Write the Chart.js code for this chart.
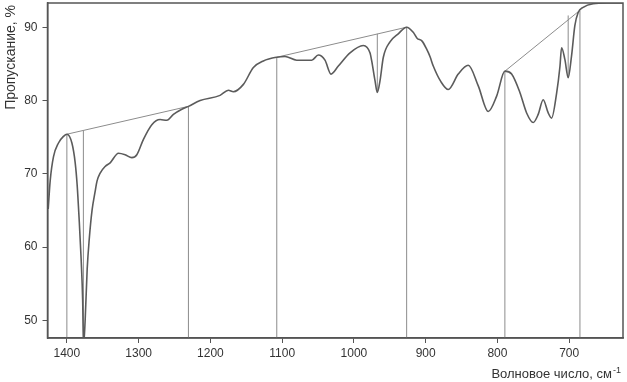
<!DOCTYPE html>
<html>
  <head>
    <script src="https://cdn.jsdelivr.net/npm/chart.js"></script>
    <title>IR spectrum</title>
    <style>
      body {
        margin: 0;
        background-color: white;
      }
      #wrap {
        width: 627px;
        height: 382px;
      }
    </style>
  </head>
  <body>
    <div id="wrap"><canvas id="spectrum"></canvas></div>

    <script>
      // spectrum: wavenumber (cm-1) and transmittance (%)
      const wavenumbers = [1426, 1423.3, 1418.7, 1411.7, 1404.7, 1400, 1393, 1388.4, 1385.7, 1382.9,
        1380.1, 1378, 1376.8, 1374.5, 1371.7, 1368.9, 1364.8, 1360.6, 1358, 1353.6,
        1346.7, 1339.7, 1328.1, 1318.8, 1309.5, 1302.5, 1293.3, 1281.6, 1270.1, 1260.7,
        1251.5, 1239.8, 1230.6, 1214.3, 1186.5, 1174.9, 1168, 1154, 1140.1, 1126.2,
        1107.5, 1096, 1079.7, 1058.8, 1049.6, 1040.3, 1031.9, 1021.7, 1005.4, 986.9,
        977.6, 975.2, 970.6, 967.4, 963.6, 959, 949.7, 938.2, 926.5, 917.3,
        912, 905, 898.6, 894, 889.4, 879, 868.5, 854.6, 840.7, 826.7,
        812.8, 801.1, 789.6, 780.2, 768.7, 759.3, 750.1, 743.2, 736.2, 729.2,
        724.5, 717.5, 712.9, 710.6, 706, 701.4, 696.7, 692.1, 687.5, 680.5,
        666.6, 647.9, 625];
      const transmittance = [65.2, 69.0, 72.3, 74.2, 75.1, 75.4, 74.2, 71.5, 68.5, 63.8,
        58.3, 52.8, 46.5, 50.1, 57.0, 61.0, 65.1, 67.6, 69.0, 70.1,
        71.0, 71.5, 72.8, 72.6, 72.2, 72.6, 74.7, 76.7, 77.4, 77.3,
        78.1, 78.8, 79.2, 80.0, 80.7, 81.4, 81.2, 82.2, 84.5, 85.4,
        85.9, 86.0, 85.5, 85.5, 86.2, 85.5, 83.6, 84.7, 86.5, 87.5,
        86.5, 85.4, 82.7, 81.1, 82.7, 85.9, 88.0, 89.1, 90.0, 89.3,
        88.5, 88.1, 87.0, 86.0, 84.7, 82.6, 81.5, 83.6, 84.8, 82.0,
        78.5, 80.6, 84.0, 83.6, 81.1, 78.3, 77.0, 78.1, 80.1, 78.3,
        77.6, 81.0, 84.6, 87.2, 85.6, 83.1, 86.1, 90.2, 92.0, 92.7,
        93.2, 93.3, 93.3];

      // baselines drawn between maxima
      const baseStartW = [1400, 1107.5, 789.6];
      const baseStartT = [75.4, 85.9, 84.0];
      const baseEndW = [1230.6, 926.5, 685];
      const baseEndT = [79.2, 90.0, 92.3];

      // vertical marks from the axis up to a point
      const markW = [1400, 1377, 1230.6, 1107.5, 926.5, 789.6, 685];
      const markT = [75.4, 75.9, 79.2, 85.9, 90.0, 84.0, 92.3];

      // short verticals from a band minimum up to its baseline
      const dipW = [967.4, 701.4];
      const dipLow = [81.1, 83.1];
      const dipHigh = [89.1, 91.6];

      const xTicks = [1400, 1300, 1200, 1100, 1000, 900, 800, 700];
      const yTicks = [50, 60, 70, 80, 90];
      const xMin = 625, xMax = 1427;
      const yMin = 47.6, yMax = 93.3;

      const yTitle = 'Пропускание, %';
      const xTitle = 'Волновое число, см';
      const xTitleSup = '-1';

      const curveColor = '#5b5b5b';
      const markColor = '#8c8c8c';
      const textColor = '#333';

      function seg(points) {
        return {
          data: points,
          borderColor: markColor,
          borderWidth: 1,
          pointRadius: 0,
          tension: 0,
          fill: false,
        };
      }

      const datasets = [{
        data: wavenumbers.map((w, i) => ({ x: w, y: transmittance[i] })),
        borderColor: curveColor,
        borderWidth: 1.6,
        pointRadius: 0,
        cubicInterpolationMode: 'monotone',
        fill: false,
      }];
      baseStartW.forEach((w, i) => {
        datasets.push(seg([{ x: w, y: baseStartT[i] }, { x: baseEndW[i], y: baseEndT[i] }]));
      });
      markW.forEach((w, i) => {
        datasets.push(seg([{ x: w, y: 40 }, { x: w, y: markT[i] }]));
      });
      dipW.forEach((w, i) => {
        datasets.push(seg([{ x: w, y: dipLow[i] }, { x: w, y: dipHigh[i] }]));
      });

      // frame round the plot and the two axis titles
      const decor = {
        id: 'decor',
        afterDraw(chart) {
          const ctx = chart.ctx;
          const a = chart.chartArea;
          ctx.save();
          ctx.strokeStyle = '#555';
          ctx.lineWidth = 1.5;
          ctx.strokeRect(a.left, a.top, a.right - a.left, a.bottom - a.top);

          ctx.fillStyle = textColor;
          ctx.font = '14px "Liberation Sans", Arial, sans-serif';
          ctx.translate(15, 5);
          ctx.rotate(-Math.PI / 2);
          ctx.textAlign = 'right';
          ctx.textBaseline = 'alphabetic';
          ctx.fillText(yTitle, 0, 0);
          ctx.restore();

          ctx.save();
          ctx.fillStyle = textColor;
          ctx.font = '9px "Liberation Sans", Arial, sans-serif';
          const supW = ctx.measureText(xTitleSup).width;
          ctx.textAlign = 'right';
          ctx.fillText(xTitleSup, 621, 373);
          ctx.font = '13px "Liberation Sans", Arial, sans-serif';
          ctx.fillText(xTitle, 621 - supW - 1, 378);
          ctx.restore();
        }
      };

      new Chart(document.getElementById('spectrum'), {
        type: 'line',
        data: { datasets: datasets },
        plugins: [decor],
        options: {
          responsive: true,
          maintainAspectRatio: false,
          animation: false,
          layout: { padding: { top: 3, right: 4, left: 0, bottom: 0 } },
          plugins: {
            legend: { display: false },
            tooltip: { enabled: false },
          },
          scales: {
            x: {
              type: 'linear',
              reverse: true,
              min: xMin,
              max: xMax,
              afterBuildTicks: (scale) => { scale.ticks = xTicks.map(v => ({ value: v })); },
              afterFit: (scale) => {
                scale.height = 44;
                scale.paddingLeft = 0;
                scale.paddingRight = 0;
              },
              grid: { drawOnChartArea: false, tickLength: 5, tickColor: '#555' },
              border: { color: '#555', width: 1.5 },
              ticks: {
                color: textColor,
                padding: 3,
                maxRotation: 0,
                callback: (v) => String(v),
                font: { family: '"Liberation Sans", Arial, sans-serif', size: 12 },
              },
            },
            y: {
              min: yMin,
              max: yMax,
              afterBuildTicks: (scale) => { scale.ticks = yTicks.map(v => ({ value: v })); },
              afterFit: (scale) => {
                scale.width = 47.5;
                scale.paddingTop = 0;
                scale.paddingBottom = 0;
              },
              grid: { drawOnChartArea: false, tickLength: 5, tickColor: '#555' },
              border: { color: '#555', width: 1.5 },
              ticks: {
                color: textColor,
                padding: 5,
                callback: (v) => String(v),
                font: { family: '"Liberation Sans", Arial, sans-serif', size: 12 },
              },
            },
          },
        },
      });
    </script>
  </body>
</html>
